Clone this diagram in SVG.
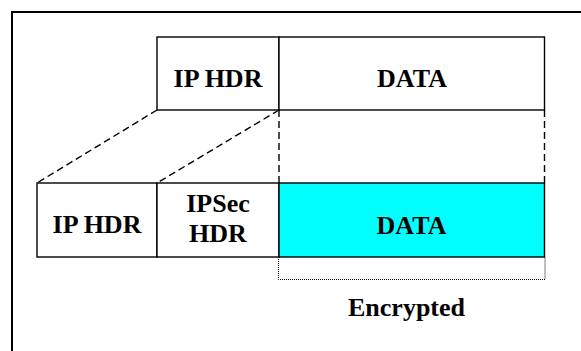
<svg xmlns="http://www.w3.org/2000/svg" width="581" height="351" viewBox="0 0 581 351">
  <style>
    .box { fill: #ffffff; stroke: #000000; stroke-width: 1.4; }
    .enc { fill: #00ffff; stroke: #000000; stroke-width: 1.4; }
    .lbl { font-family: "Liberation Serif", "Times New Roman", serif; font-weight: bold; font-size: 26px; fill: #000000; text-anchor: middle; }
    .dash { fill: none; stroke: #000000; stroke-width: 1.4; stroke-dasharray: 7 4; }
    .dot { fill: none; stroke: #000000; stroke-width: 1; stroke-dasharray: 1 1; }
  </style>

  <!-- page frame -->
  <rect x="0" y="0" width="581" height="351" fill="#ffffff"/>
  <rect x="12" y="12" width="580" height="350" fill="none" stroke="#000000" stroke-width="2"/>

  <!-- mapping lines between the original and the protected packet -->
  <g id="connectors">
    <line class="dash" x1="157" y1="110" x2="37" y2="183"/>
    <line class="dash" x1="279" y1="110" x2="157" y2="183"/>
    <line class="dash" x1="279" y1="110" x2="279" y2="183"/>
    <line class="dash" x1="544.5" y1="110" x2="544.5" y2="183"/>
    <polyline class="dot" points="278.5,257 278.5,279.5 545,279.5 545,257"/>
  </g>

  <!-- original packet -->
  <g id="orig-ip-hdr">
    <rect class="box" x="157" y="37" width="122" height="73"/>
    <text class="lbl" x="218" y="87">IP HDR</text>
  </g>
  <g id="orig-data">
    <rect class="box" x="279" y="37" width="265.5" height="73"/>
    <text class="lbl" x="412" y="87">DATA</text>
  </g>

  <!-- protected packet -->
  <g id="new-ip-hdr">
    <rect class="box" x="37" y="183" width="120" height="74"/>
    <text class="lbl" x="97" y="233">IP HDR</text>
  </g>
  <g id="ipsec-hdr">
    <rect class="box" x="157" y="183" width="122" height="74"/>
    <text class="lbl" x="218" y="211.5">IPSec</text>
    <text class="lbl" x="218" y="241.5">HDR</text>
  </g>
  <g id="enc-data">
    <rect class="enc" x="279" y="183" width="265.5" height="74"/>
    <text class="lbl" x="411.5" y="234">DATA</text>
  </g>

  <g id="encrypted-label">
    <text class="lbl" x="406.5" y="315.5">Encrypted</text>
  </g>
</svg>
